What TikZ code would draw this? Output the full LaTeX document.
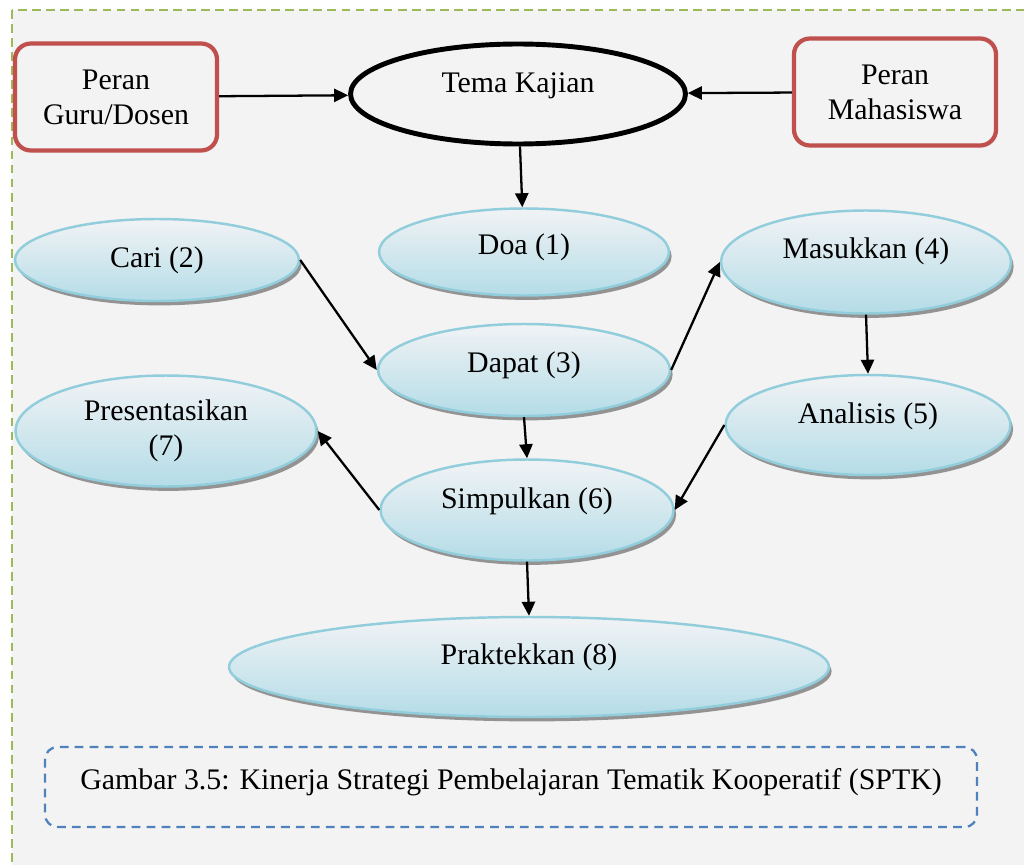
\documentclass[tikz,border=0pt]{standalone}
\usepackage{fontspec}
\setmainfont{Liberation Serif}
\usepackage{tikz}
\usetikzlibrary{positioning,shapes,shadows,arrows.meta}

\definecolor{bgGray}{HTML}{F3F3F3}
\definecolor{frameGreen}{HTML}{9BBB59}
\definecolor{boxRed}{HTML}{C0504D}
\definecolor{capBlue}{HTML}{4F81BD}
\definecolor{blobLine}{HTML}{92CDDC}
\definecolor{blobTop}{HTML}{F1F3F5}
\definecolor{blobBot}{HTML}{B4DCE7}

\begin{document}
\begin{tikzpicture}[x=0.02cm,y=-0.02cm,->,>={Triangle[length=8pt,width=7.5pt]},
          line width=1.3pt,font=\fontsize{17}{20}\selectfont]
            \tikzstyle{lift}=[text height=12pt, text depth=#1]
            \tikzstyle{role}=[draw=boxRed, line width=2.4pt, rounded corners=9pt,
                fill=bgGray, align=center, minimum width=4.04cm, minimum height=2.14cm]
            \tikzstyle{blob}=[ellipse, draw=blobLine, line width=1.4pt, align=center,
                top color=blobTop, bottom color=blobBot, inner sep=0pt,
                drop shadow={shadow xshift=1.5pt, shadow yshift=-2.5pt, fill=black!55, opacity=.75}]
            % page and frame
            \path[use as bounding box, clip] (0,0) rectangle (1024,865);
            \fill[white] (0,0) rectangle (1024,865);
            \draw[-, fill=bgGray, draw=frameGreen, line width=1.5pt,
                dash pattern=on 5pt off 3pt] (12,10) rectangle (1040,880);
            % top row
            \node[role] (guru) at (116,97) {Peran\\Guru/Dosen};
            \node[role] (maha) at (895,92) {Peran\\Mahasiswa};
            \node[ellipse, draw, line width=2.8pt, fill=bgGray, minimum width=6.7cm,
                minimum height=2.0cm, inner sep=0pt, lift=14pt] (tema) at (518,94) {Tema Kajian};
            % steps
            \node[blob, minimum width=5.68cm, minimum height=1.64cm, lift=3.6pt] (cari) at (157,260) {Cari (2)};
            \node[blob, minimum width=5.8cm, minimum height=1.74cm, lift=9.3pt] (doa) at (524,252) {Doa (1)};
            \node[blob, minimum width=5.8cm, minimum height=2.06cm, lift=16pt] (masuk) at (866,262) {Masukkan (4)};
            \node[blob, minimum width=5.84cm, minimum height=1.84cm, lift=9.3pt] (dapat) at (524,370) {Dapat (3)};
            \node[blob, minimum width=5.7cm, minimum height=2.0cm, lift=13.8pt] (anal) at (868,425) {Analisis (5)};
            \node[blob, minimum width=6.02cm, minimum height=2.22cm] (pres) at (166,431) {Presentasikan\\(7)};
            \node[blob, minimum width=5.86cm, minimum height=2.02cm, lift=13.8pt] (simp) at (527,510) {Simpulkan (6)};
            \node[blob, minimum width=12.0cm, minimum height=2.0cm, lift=15pt] (prak) at (529,667) {Praktekkan (8)};
            % caption
            \node[draw=capBlue, line width=1.3pt, dash pattern=on 5pt off 3.5pt, rounded corners=7pt,
                minimum width=18.64cm, minimum height=1.6cm, lift=9.6pt] (cap) at (511,787)
                {Gambar 3.5: Kinerja Strategi Pembelajaran Tematik Kooperatif (SPTK)};
            \path (guru) edge (tema)
                  (maha) edge (tema)
                  (tema) edge (doa)
                  (cari.east) edge (dapat.west)
                  (dapat.east) edge (masuk.west)
                  (masuk.south) edge (anal.north)
                  (dapat.south) edge (simp.north)
                  (anal.west) edge (simp.east)
                  (simp.west) edge (pres.east)
                  (simp.south) edge (prak.north);
        \end{tikzpicture}
\end{document}
